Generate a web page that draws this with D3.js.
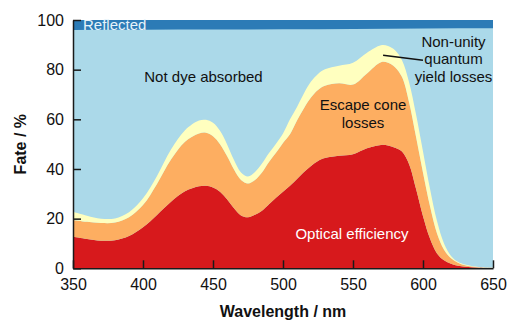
<!DOCTYPE html>
<html>
<head>
<meta charset="utf-8">
<script src="https://cdn.jsdelivr.net/npm/d3@7"></script>
<style>
  html, body { margin: 0; padding: 0; background: #fff; }
  svg { display: block; font-family: "Liberation Sans", Arial, Helvetica, sans-serif; }
</style>
</head>
<body>
<svg id="chart" width="507" height="321"></svg>
<script>
// Wavelength grid (nm)
const wavelengths = [350, 360, 370, 380, 390, 400, 410, 420, 430, 440, 445, 450, 455, 460, 465, 470, 475,
  480, 485, 490, 495, 500, 505, 510, 515, 520, 525, 530, 540, 550, 560, 570, 575, 580, 585, 590, 595,
  600, 605, 610, 615, 620, 625, 630, 640, 650];

// Photon fate (%) at each wavelength
const opticalEfficiency = [12.7, 11.8, 11.1, 11.3, 13.0, 16.5, 21.5, 26.8, 31.0, 33.0, 33.2, 32.5, 30.8, 27.8, 24.2, 21.3, 20.6,
  21.6, 23.2, 25.8, 28.4, 30.8, 33.2, 36.0, 38.8, 41.2, 43.2, 44.4, 45.3, 45.9, 48.3, 49.7, 49.5, 48.6, 47.0, 42.0, 32.0,
  21.0, 12.0, 6.0, 3.2, 1.8, 1.0, 0.6, 0.2, 0.1];
const escapeConeLosses = [6.8, 6.9, 7.1, 7.1, 7.6, 9.0, 12.5, 17.0, 20.0, 21.3, 21.4, 20.7, 19.2, 17.4, 15.6, 14.3, 13.6,
  14.0, 15.4, 17.0, 18.1, 19.7, 20.8, 23.5, 25.7, 27.6, 28.6, 29.1, 29.2, 28.1, 30.2, 33.3, 33.3, 32.4, 30.0, 25.0, 21.0,
  17.5, 13.0, 8.0, 4.3, 2.2, 1.2, 0.6, 0.2, 0.05];
const quantumYieldLosses = [3.3, 2.5, 1.8, 1.7, 2.0, 2.7, 3.2, 4.0, 4.6, 5.2, 5.2, 5.4, 5.4, 4.8, 3.8, 3.0, 2.8,
  3.2, 3.6, 3.6, 3.7, 3.8, 6.0, 5.5, 6.0, 6.4, 6.5, 6.7, 7.1, 8.8, 8.3, 6.8, 6.7, 6.8, 6.8, 8.0, 9.0,
  8.5, 7.0, 5.0, 2.5, 1.0, 0.4, 0.3, 0.1, 0.05];

// Front-surface reflection (%)
const reflWavelengths = [350, 400, 450, 500, 550, 600, 650];
const reflected = [4.0, 3.9, 3.8, 3.7, 3.6, 3.4, 3.3];

const xTicks = [350, 400, 450, 500, 550, 600, 650];
const yTicks = [0, 20, 40, 60, 80, 100];

const colors = {
  optical: "#d7191c",
  escape: "#fdae61",
  quantum: "#ffffbf",
  notAbsorbed: "#abd9e9",
  reflected: "#2c7bb6"
};

const W = 507, H = 321;
const margin = { left: 73, right: 14, top: 20, bottom: 52.7 };
const svg = d3.select("#chart");

const x = d3.scaleLinear().domain([350, 650]).range([margin.left, W - margin.right]);
const y = d3.scaleLinear().domain([0, 100]).range([H - margin.bottom, margin.top]);

const rows = wavelengths.map((w, i) => ({
  w,
  optical: opticalEfficiency[i],
  escape: escapeConeLosses[i],
  quantum: quantumYieldLosses[i]
}));
const keys = ["optical", "escape", "quantum"];
const stacked = d3.stack().keys(keys)(rows);

// light is not absorbed by the dye everywhere above the stack
svg.append("rect")
  .attr("x", x(350)).attr("y", y(100))
  .attr("width", x(650) - x(350)).attr("height", y(0) - y(100))
  .attr("fill", colors.notAbsorbed);

const area = d3.area()
  .x(d => x(d.data.w))
  .y0(d => y(d[0]))
  .y1(d => y(d[1]))
  .curve(d3.curveCatmullRom.alpha(0.5));

svg.append("g").selectAll("path")
  .data(stacked)
  .join("path")
  .attr("fill", d => colors[d.key])
  .attr("d", area);

// reflected band at the top
const reflArea = d3.area()
  .x((d, i) => x(reflWavelengths[i]))
  .y0(d => y(100 - d))
  .y1(() => y(100))
  .curve(d3.curveMonotoneX);
svg.append("path")
  .datum(reflected)
  .attr("fill", colors.reflected)
  .attr("d", reflArea);

// axes
const axisColor = "#1a1a1a";
const xAxis = svg.append("g")
  .attr("transform", `translate(0,${y(0)})`)
  .call(d3.axisBottom(x).tickValues(xTicks).tickSizeInner(-8).tickSizeOuter(0).tickPadding(10));
const yAxis = svg.append("g")
  .attr("transform", `translate(${x(350)},0)`)
  .call(d3.axisLeft(y).tickValues(yTicks).tickSizeInner(-8).tickSizeOuter(0).tickPadding(9));

[xAxis, yAxis].forEach(g => {
  g.select(".domain").attr("stroke", axisColor).attr("stroke-width", 1.5);
  g.selectAll(".tick line").attr("stroke", axisColor).attr("stroke-width", 1.5);
  g.selectAll(".tick text")
    .attr("fill", "#111")
    .style("font-size", "16px")
    .style("font-family", "'Liberation Sans', Arial, sans-serif");
});

// axis titles
svg.append("text")
  .attr("x", (x(350) + x(650)) / 2).attr("y", 316.5)
  .attr("text-anchor", "middle")
  .style("font-size", "16px").style("font-weight", "bold")
  .attr("fill", "#111")
  .text("Wavelength / nm");
svg.append("text")
  .attr("transform", `translate(26,${(y(0) + y(100)) / 2}) rotate(-90)`)
  .attr("text-anchor", "middle")
  .style("font-size", "16px").style("font-weight", "bold")
  .attr("fill", "#111")
  .text("Fate / %");

// region labels
const label = (txt, px, py, color, anchor = "middle") =>
  svg.append("text")
    .attr("x", px).attr("y", py)
    .attr("text-anchor", anchor)
    .style("font-size", "15px")
    .attr("fill", color)
    .text(txt);

label("Reflected", 83, 29.5, "#e6f3fa", "start");
label("Not dye absorbed", 203.5, 81.5, "#111");
label("Escape cone", 363, 110, "#111");
label("losses", 363, 127.5, "#111");
label("Optical efficiency", 352, 238.5, "#ffffff");
label("Non-unity", 453.5, 46.5, "#111");
label("quantum", 453.5, 64.3, "#111");
label("yield losses", 453.5, 82.3, "#111");

// leader to the quantum-yield band
svg.append("line")
  .attr("x1", x(571.5)).attr("y1", y(85.8))
  .attr("x2", x(600)).attr("y2", y(83.8))
  .attr("stroke", "#111").attr("stroke-width", 1.5);
</script>
</body>
</html>
